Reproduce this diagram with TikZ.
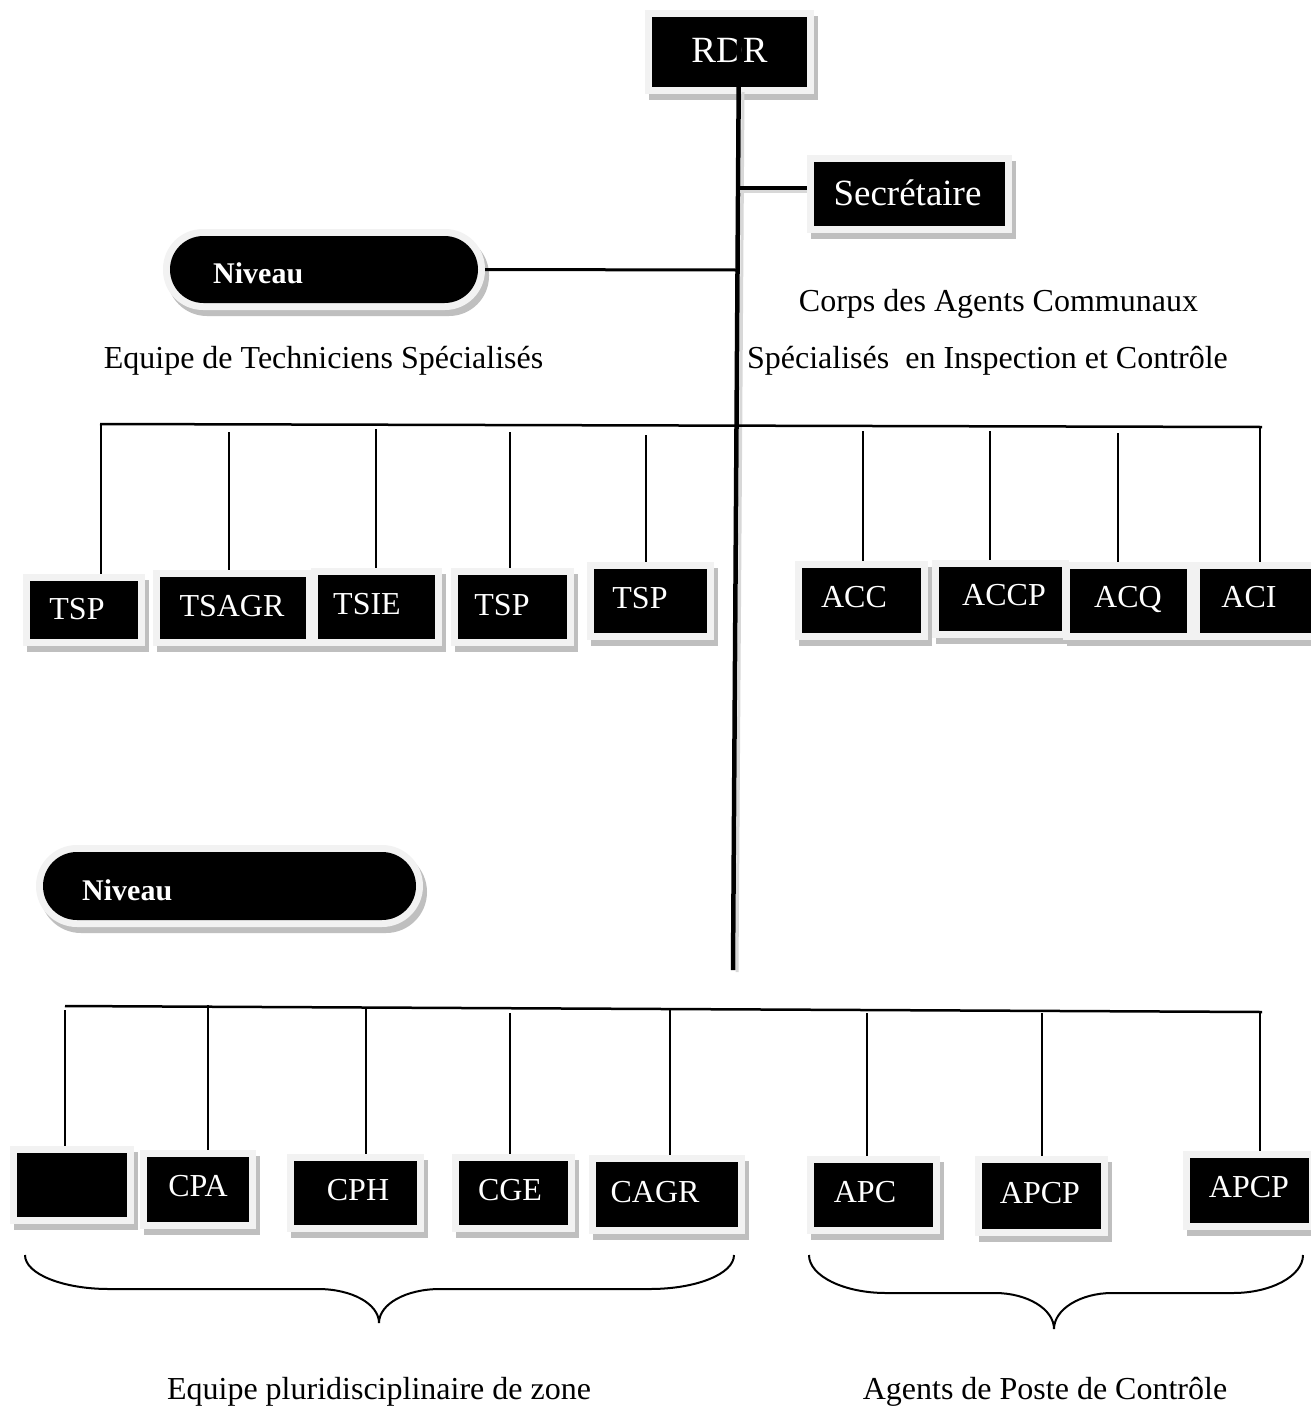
\documentclass[tikz,border=0pt]{standalone}
\usepackage{fontspec}
\setmainfont{Liberation Serif}
\definecolor{boxborder}{HTML}{F2F2F2}
\definecolor{boxshadow}{HTML}{BFBFBF}
\tikzset{
  blackbox/.style={rectangle, fill=black, inner sep=0pt, outer sep=0pt},
  pillbox/.style={rectangle, fill=black, inner sep=0pt, outer sep=0pt},
  boxtext/.style={anchor=base, text=white, inner sep=0pt, font=\fontsize{32}{36}\selectfont},
  bigtext/.style={anchor=base, text=white, inner sep=0pt, font=\fontsize{37}{42}\selectfont},
  lbl/.style={anchor=base, text=black, inner sep=0pt, font=\fontsize{32}{36}\selectfont},
  nivtext/.style={anchor=base west, text=white, inner sep=0pt, font=\fontsize{30}{34}\selectfont\bfseries},
  mainline/.style={line width=4.5pt, black},
  linkline/.style={line width=4pt, black},
  nivline/.style={line width=3pt, black},
  barline/.style={line width=2.5pt, black},
  dropline/.style={line width=1.5pt, black},
  braceline/.style={line width=2pt, black},
}
% name, x1, y1, x2, y2, text, text x, text baseline
\newcommand{\orgbox}[8]{%
  \fill[boxshadow] ({#2-7+4},{#3-7+6}) rectangle ({#4+7+4},{#5+7+6});
  \fill[boxborder] ({#2-7},{#3-7}) rectangle ({#4+7},{#5+7});
  \node[blackbox, minimum width={(#4)-(#2)}, minimum height={(#5)-(#3)}] (#1) at ({(#2+#4)/2},{(#3+#5)/2}) {};
  \node[boxtext] (#1-t) at (#7,#8) {#6};
}
\begin{document}
\begin{tikzpicture}[x=1pt,y=-1pt]
\useasboundingbox (0,0) rectangle (1311,1411);
\fill[white] (0,0) rectangle (1311,1411);

% ---- RDR
\fill[boxshadow] (649,16) rectangle (818,100);
\fill[boxborder] (645,10) rectangle (814,94);
\node[blackbox, minimum width=155, minimum height=70] (rdr) at (729.5,52) {};
\node[bigtext] (rdr-t) at (729.5,62) {RDR};

% ---- Secretaire
\fill[boxshadow] (811,161) rectangle (1016,239);
\fill[boxborder] (807,155) rectangle (1012,233);
\node[blackbox, minimum width=191, minimum height=64] (sec) at (909.5,194) {};
\node[bigtext] (sec-t) at (907.5,205) {Secrétaire};

% ---- main vertical line
\coordinate (mtop) at (739,40);
\coordinate (mbot) at (733,970);
\draw[line width=3pt, boxshadow!60] (743,92) -- (737,972);
\draw[mainline] (mtop) -- (mbot);

% ---- connector to Secretaire
\coordinate (j1) at (738,188);
\draw[line width=3pt, boxshadow!60] (740,191) -- (807,191);
\draw[linkline, shorten >=7pt] (j1) -- (j1 -| sec.west);

% ---- Niveau pills
\fill[boxshadow, rounded corners=40pt] (167,235) rectangle (489,316);
\fill[boxborder, rounded corners=40pt] (163,229) rectangle (485,310);
\node[pillbox, rounded corners=33.5pt, minimum width=308, minimum height=67] (niva) at (324,269.5) {};
\node[nivtext] (niva-t) at (213,283) {Niveau};
\coordinate (j2) at (737,270);
\draw[nivline, shorten <=7pt] (niva.east) -- (j2);

\fill[boxshadow, rounded corners=41pt] (40,851) rectangle (427,933);
\fill[boxborder, rounded corners=41pt] (36,845) rectangle (423,927);
\node[pillbox, rounded corners=34pt, minimum width=373, minimum height=68] (nivb) at (229.5,886) {};
\node[nivtext] (nivb-t) at (82,900) {Niveau};

% ---- labels
\node[lbl] (corps) at (998.5,311) {Corps des Agents Communaux};
\node[lbl] (specia) at (987.5,368) {Spécialisés\ \ en Inspection et Contrôle};
\node[lbl] (equipt) at (323.5,368) {Equipe de Techniciens Spécialisés};

% ---- top row boxes
\orgbox{tspa}{30}{581}{138}{639}{TSP}{77}{619}
\orgbox{tsagr}{160}{577}{306}{639}{TSAGR}{232}{616}
\orgbox{tsie}{318}{575}{435}{639}{TSIE}{367}{614}
\orgbox{tspb}{458}{575}{567}{639}{TSP}{502}{615}
\orgbox{tspc}{594}{569}{707}{633}{TSP}{640}{608}
\orgbox{acc}{802}{568}{921}{633}{ACC}{854}{607}
\orgbox{accp}{939}{567}{1062}{631}{ACCP}{1004}{605}
\orgbox{acq}{1070}{569}{1187}{633}{ACQ}{1128}{607}
\orgbox{aci}{1200}{569}{1320}{633}{ACI}{1249}{607}

% ---- top bar and drops
\coordinate (tbl) at (100,424);
\coordinate (tbr) at (1262,427);
\draw[barline] (tbl) -- (tbr);
\foreach \x/\y/\n [count=\i] in {101/424/tspa, 229/432/tsagr, 376/429/tsie, 510/432/tspb, 646/435/tspc, 863/431/acc, 990/431/accp, 1118/433/acq, 1260/427/aci}{
  \coordinate (td\i) at (\x,\y);
  \draw[dropline, shorten >=7pt] (td\i) -- (td\i |- \n.north);
}

% ---- bottom row boxes
\orgbox{blank}{17}{1153}{127}{1217}{}{72}{1195}
\orgbox{cpa}{147}{1157}{249}{1222}{CPA}{198}{1196}
\orgbox{cph}{294}{1161}{417}{1225}{CPH}{358}{1200}
\orgbox{cge}{459}{1161}{568}{1225}{CGE}{510}{1200}
\orgbox{cagr}{596}{1162}{738}{1227}{CAGR}{655}{1202}
\orgbox{apc}{814}{1163}{933}{1227}{APC}{865}{1202}
\orgbox{apcpa}{982}{1163}{1101}{1229}{APCP}{1040}{1203}
\orgbox{apcpb}{1190}{1158}{1309}{1223}{APCP}{1249}{1197}

% ---- bottom bar and drops
\coordinate (bbl) at (65,1006);
\coordinate (bbr) at (1262,1012);
\draw[barline] (bbl) -- (bbr);
\foreach \x/\y/\n [count=\i] in {65/1010/blank, 208/1005/cpa, 366/1008/cph, 510/1013/cge, 670/1008/cagr, 867/1013/apc, 1042/1013/apcpa, 1260/1012/apcpb}{
  \coordinate (bd\i) at (\x,\y);
  \draw[dropline, shorten >=7pt] (bd\i) -- (bd\i |- \n.north);
}

% ---- braces
\draw[braceline] (25,1255) .. controls (25,1274) and (63,1289) .. (109,1289)
  -- (318,1289) .. controls (352,1289) and (379,1304) .. (379,1323)
  .. controls (379,1304) and (406,1289) .. (440,1289)
  -- (650,1289) .. controls (696,1289) and (734,1274) .. (734,1255);
\draw[braceline] (809,1255) .. controls (809,1276) and (844,1293) .. (886,1293)
  -- (995,1293) .. controls (1027,1293) and (1054,1309) .. (1054,1329)
  .. controls (1054,1309) and (1081,1293) .. (1112,1293)
  -- (1233,1293) .. controls (1271,1293) and (1303,1276) .. (1303,1255);

% ---- bottom labels
\node[lbl] (equipz) at (379,1399) {Equipe pluridisciplinaire de zone};
\node[lbl] (agents) at (1045,1399) {Agents de Poste de Contrôle};
\end{tikzpicture}
\end{document}
